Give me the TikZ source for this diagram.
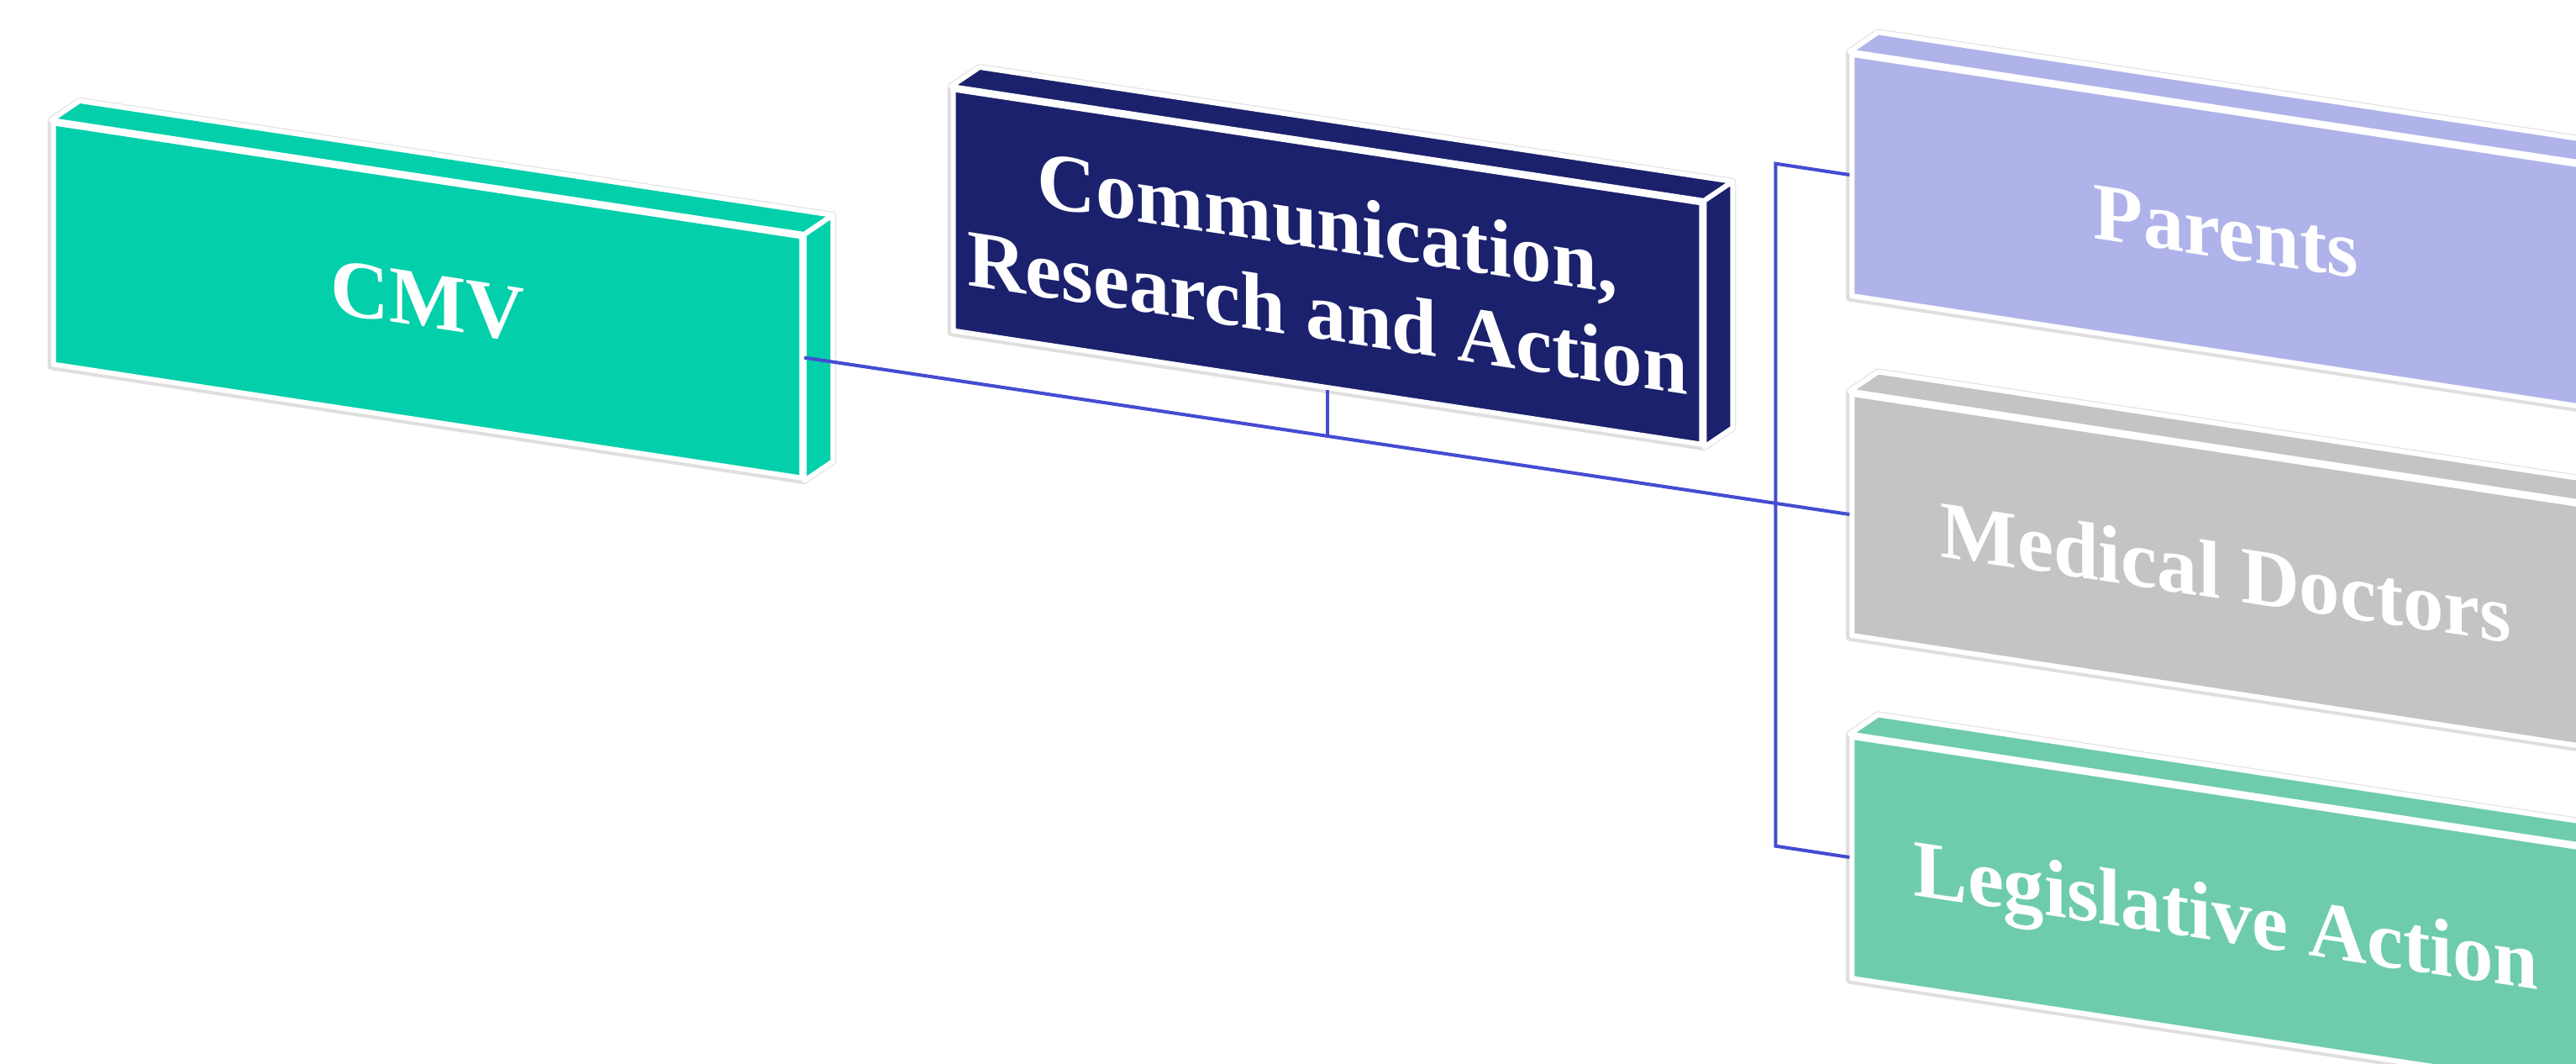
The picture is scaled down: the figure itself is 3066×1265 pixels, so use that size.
\documentclass[tikz,border=0pt]{standalone}
\usepackage{fontspec}
\setmainfont{Liberation Serif}
\usetikzlibrary{calc}

\definecolor{cmvteal}{RGB}{3,207,170}
\definecolor{commnavy}{RGB}{27,33,108}
\definecolor{parlav}{RGB}{175,179,233}
\definecolor{docgray}{RGB}{196,196,196}
\definecolor{legmint}{RGB}{110,204,171}
\definecolor{linkblue}{RGB}{68,76,210}

\pgfdeclarelayer{rim}
\pgfsetlayers{rim,main}

\tikzset{
  slab/.style={rectangle, fill=#1, draw=white, line width=1.7pt, line join=round,
    minimum width=8.9cm, minimum height=2.87cm, inner sep=0pt, yslant=-0.1517,
    text=white, align=center, text depth=0pt,
    font=\fontsize{27.5}{30.5}\selectfont\bfseries},
  face/.style={fill=#1, draw=white, line width=1.7pt, line join=round},
  link/.style={draw=linkblue, line width=1.15pt}
}

% top and side of a slab
\newcommand{\slabsides}[2]{%
  \begin{pgfonlayer}{rim}
    \draw[gray!25, line width=2.3pt, line join=round] (#1.north west) -- ++(34,-23)
      -- ($(#1.north east)+(34,-23)$) -- ($(#1.south east)+(34,-23)$)
      -- (#1.south east) -- (#1.south west) -- cycle;
  \end{pgfonlayer}
  \draw[face=#2] (#1.north west) -- ++(34,-23) -- ($(#1.north east)+(34,-23)$) -- (#1.north east) -- cycle;
  \draw[face=#2] (#1.north east) -- ++(34,-23) -- ($(#1.south east)+(34,-23)$) -- (#1.south east) -- cycle;
}

\begin{document}
\begin{tikzpicture}[x=0.01cm, y=-0.01cm]
  \useasboundingbox (0,0) rectangle (3066,1265);
  \clip (0,0) rectangle (3066,1265);

  \node[slab=cmvteal] (cmv) at (509,357.5) {CMV};
  \slabsides{cmv}{cmvteal}
  \node[slab=commnavy] (comm) at (1580,317.5) {Communication,\\Research and Action};
  \slabsides{comm}{commnavy}

  \foreach \n/\y/\c/\t in {par/276/parlav/Parents, doc/680/docgray/Medical Doctors, leg/1088/legmint/Legislative Action} {
    \node[slab=\c] (\n) at (2649.5,\y) {\t};
    \slabsides{\n}{\c}
  }

  \coordinate (mid) at ($(cmv.east)!0.5!(doc.west)$);
  \draw[link] (cmv.east) -- (doc.west);
  \draw[link] (comm.south) -- (comm.south |- mid);
  \draw[link] (par.west) -- ++(-88,-13.35) -- ($(leg.west)+(-88,-13.35)$) -- (leg.west);
\end{tikzpicture}
\end{document}
